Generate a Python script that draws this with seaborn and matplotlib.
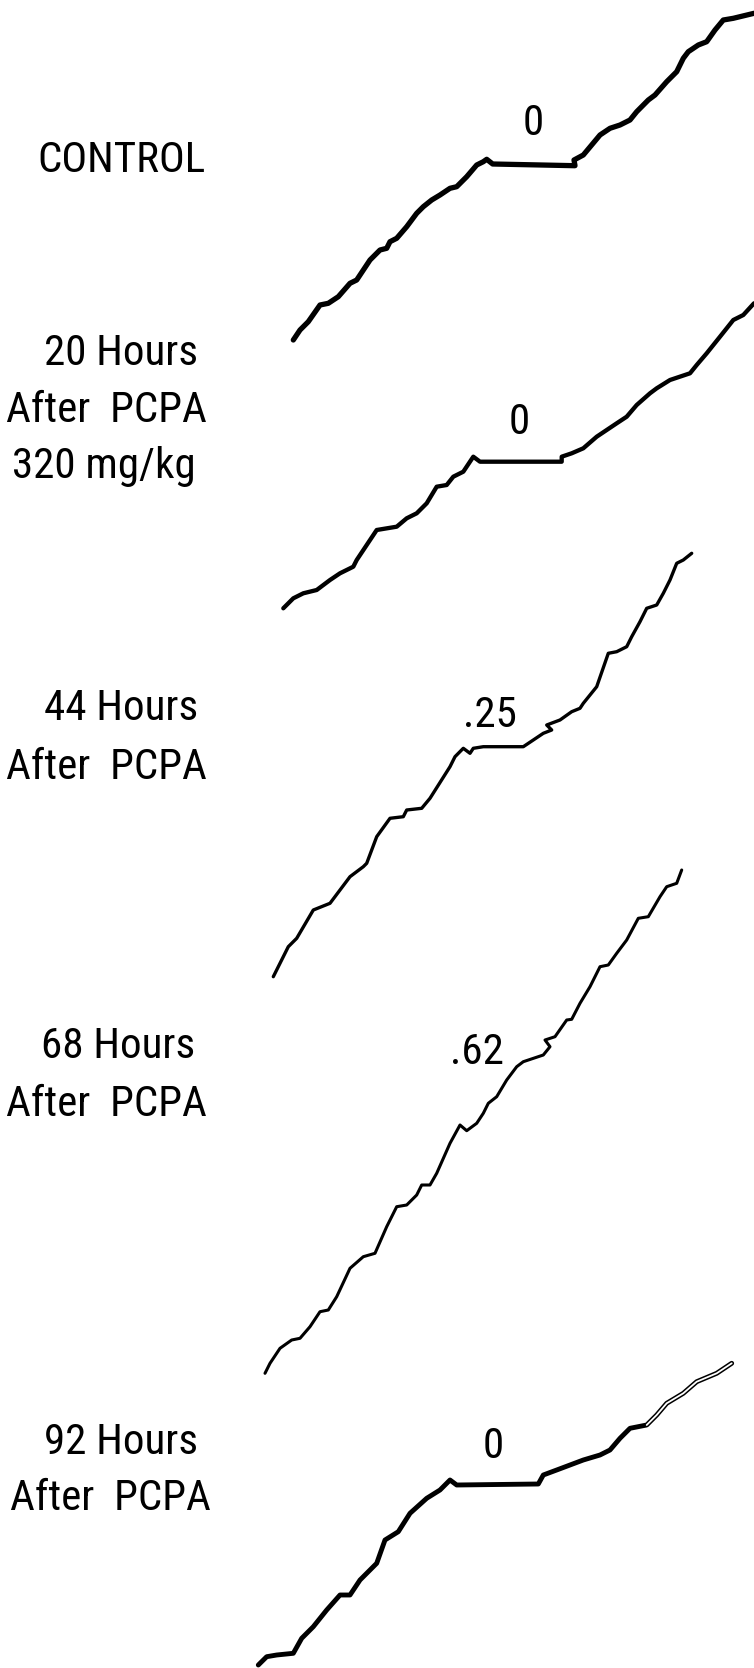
import matplotlib
matplotlib.use("Agg")
import matplotlib.pyplot as plt
import seaborn as sns
import pandas as pd
from matplotlib import font_manager

# ---- data: cumulative records (horizontal = session time, vertical = cumulative responses,
#      both on a 754 x 1668 page grid, vertical grows downward)
control_t = [293.3, 300, 308.3, 320, 328.3, 338.3, 350, 356.7, 370, 380, 386.7, 390, 396.7, 406.7,
             416.7, 423.3, 431.7, 440, 450, 456.7, 466.7, 476.7, 483.3, 486.7, 492.7, 575, 574,
             583.3, 600, 610, 620, 630, 636.7, 648.3, 655, 666.7, 676.7, 683.3, 688.3, 698.3,
             706.7, 715, 723.3, 733.3, 754]
control_r = [340, 330, 321.7, 305, 303.3, 296.7, 283.3, 280, 260, 250, 248.3, 241.7, 238.3, 226.7,
             213.3, 206.7, 200, 195, 188.3, 186.7, 176.7, 165, 161.7, 159.3, 164, 165.7, 160,
             155, 135, 128.3, 125, 120, 111.7, 100, 95, 81.7, 71.7, 58.3, 51.7, 45,
             41.7, 30, 20, 18.3, 13.3]

h20_t = [283.3, 293.3, 303.3, 316.7, 330, 340, 353.3, 356.7, 366.7, 376.7, 396.7, 406.7, 416.7,
         426.7, 436.7, 446.7, 453.3, 463.3, 473.3, 480, 561.7, 561.7, 571.7, 583.3, 596.7, 606.7,
         616.7, 626.7, 636.7, 650, 656.7, 670, 690, 696.7, 706.7, 720, 733.3, 743.3, 754]
h20_r = [608.3, 598.3, 593.3, 590, 580, 573.3, 566.7, 560, 545, 530, 526.7, 518.3, 513.3,
         503.3, 486.7, 485, 476.7, 471.7, 456.7, 461.7, 461.7, 456.7, 453.3, 448.3, 436.7, 430,
         423.3, 416.7, 405, 393.3, 388.3, 380, 373.3, 365, 353.3, 336.7, 320, 315, 303.3]

h44_t = [273.3, 280, 288.3, 296.7, 313.3, 330, 340, 350, 363.3, 366.7, 376.7, 390, 403.3, 406.7,
         421.7, 430, 450, 455, 463.3, 470, 473.3, 483.3, 523.3, 533.3, 543.3, 551.7, 546.7, 560,
         571.7, 580, 583.3, 596.7, 608.3, 616.7, 626.7, 631.7, 640, 646.7, 656.7, 663.3, 670,
         676.7, 683.3, 691.7]
h44_r = [976.7, 963.3, 946.7, 938.3, 910, 903.3, 890, 876.7, 866.7, 863.3, 836.7, 818.3, 816.7, 810,
         808.3, 798.3, 766.7, 756.7, 748.3, 753.3, 748.3, 746.7, 746.7, 740, 733.3, 730, 725, 720,
         711.7, 708.3, 703.3, 686.7, 653.3, 651.7, 646.7, 636.7, 621.7, 608.3, 605, 593.3, 580,
         563.3, 560, 553.3]

h68_t = [265, 270, 280, 291.7, 300, 310, 320, 328.3, 336.7, 350, 363.3, 375, 386.7, 396.7, 406.7,
         416.7, 421.7, 430, 436.7, 450, 460, 466.7, 476.7, 483.3, 488.3, 496.7, 506.7, 516.7,
         523.3, 543.3, 550, 545, 555, 566.7, 571.7, 580, 590, 600, 608.3, 616.7, 626.7, 638.3,
         648.3, 660, 666.7, 676.7, 681.7]
h68_r = [1373.3, 1363.3, 1348.3, 1340, 1338.3, 1326.7, 1311.7, 1310, 1296.7, 1268.3, 1256.7, 1253.3,
         1226.7, 1206.7, 1205, 1195, 1185, 1185, 1173.3, 1143.3, 1125, 1130.7, 1123.3, 1113.3,
         1103.3, 1096.7, 1080, 1066.7, 1061.7, 1055, 1046.7, 1040, 1036.7, 1020, 1019.3, 1003.3,
         986.7, 966.7, 965, 953.3, 940, 918.3, 916.7, 896.7, 886.7, 883.3, 870]

h92_t = [258.3, 266.7, 276.7, 293.3, 301.7, 313.3, 326.7, 340, 350, 360, 366.7, 376.7, 385, 398.3,
         410, 426.7, 440, 450, 456.7, 538.3, 543.3, 556.7, 570, 583.3, 600, 610, 620, 630, 646.7,
         656.7, 666.7, 683.3, 696.7, 716.7, 731.7]
h92_r = [1665, 1656.7, 1655, 1653.3, 1638.3, 1626.7, 1610, 1595, 1595, 1580, 1573.3, 1563.3, 1540,
         1531.7, 1513.3, 1498.3, 1490, 1480, 1485, 1484, 1475, 1470, 1465, 1460, 1455, 1450,
         1438.3, 1428.3, 1425, 1415, 1403.3, 1393.3, 1381.7, 1373.3, 1363.3]

records = ["CONTROL", "20 Hours", "44 Hours", "68 Hours", "92 Hours"]
record_labels = [["CONTROL"],
                 ["20 Hours", "After  PCPA", "320 mg/kg"],
                 ["44 Hours", "After  PCPA"],
                 ["68 Hours", "After  PCPA"],
                 ["92 Hours", "After  PCPA"]]
pause_values = ["0", "0", ".25", ".62", "0"]

traces = [(control_t, control_r), (h20_t, h20_r), (h44_t, h44_r), (h68_t, h68_r), (h92_t, h92_r)]

# ---- layout / style (kept apart from the data)
label_xy = [[(121, 160)],
            [(121, 353), (106, 410), (104, 466)],
            [(121, 708), (106, 767)],
            [(118, 1046), (106, 1104)],
            [(121, 1443), (110, 1499)]]
value_xy = [(533, 123), (519, 422), (490, 715), (477, 1053), (493, 1447)]
widths = [3.8, 3.1, 2.4, 2.2, 3.5]

sns.set_theme(style="white")
candidates = ["DejaVu Sans Condensed", "Liberation Sans Narrow", "Roboto Condensed",
              "Roboto", "Liberation Sans", "DejaVu Sans"]
available = {f.name for f in font_manager.fontManager.ttflist}
fam = [c for c in candidates if c in available] or ["DejaVu Sans"]
plt.rcParams["font.family"] = fam
main_font = fam[0]
narrow = main_font in ("DejaVu Sans Condensed", "Liberation Sans Narrow", "Roboto Condensed")
fsize = 31 if narrow else 26

fig = plt.figure(figsize=(7.54, 16.68), dpi=100)
ax = fig.add_axes([0, 0, 1, 1])
ax.set_xlim(0, 754)
ax.set_ylim(1668, 0)
ax.set_axis_off()

for (t, r), lw, name in zip(traces, widths, records):
    df = pd.DataFrame({"t": t, "r": r})
    sns.lineplot(data=df, x="t", y="r", sort=False, estimator=None, ax=ax,
                 color="black", linewidth=lw, solid_joinstyle="round",
                 solid_capstyle="round")

# the last stretch of the 92-hour record is drawn as a hollow (double) pen line
tail = pd.DataFrame({"t": h92_t, "r": h92_r})
tail = tail[tail["t"] >= 640]
sns.lineplot(data=tail, x="t", y="r", sort=False, estimator=None, ax=ax,
             color="white", linewidth=1.3, solid_capstyle="round")

for lines, poss in zip(record_labels, label_xy):
    for txt, (x, y) in zip(lines, poss):
        ax.text(x, y, txt, ha="center", va="center", fontsize=fsize, color="black")

for txt, (x, y) in zip(pause_values, value_xy):
    ax.text(x, y, txt, ha="center", va="center", fontsize=fsize, color="black")

fig.savefig("out.png", dpi=100, facecolor="white")
